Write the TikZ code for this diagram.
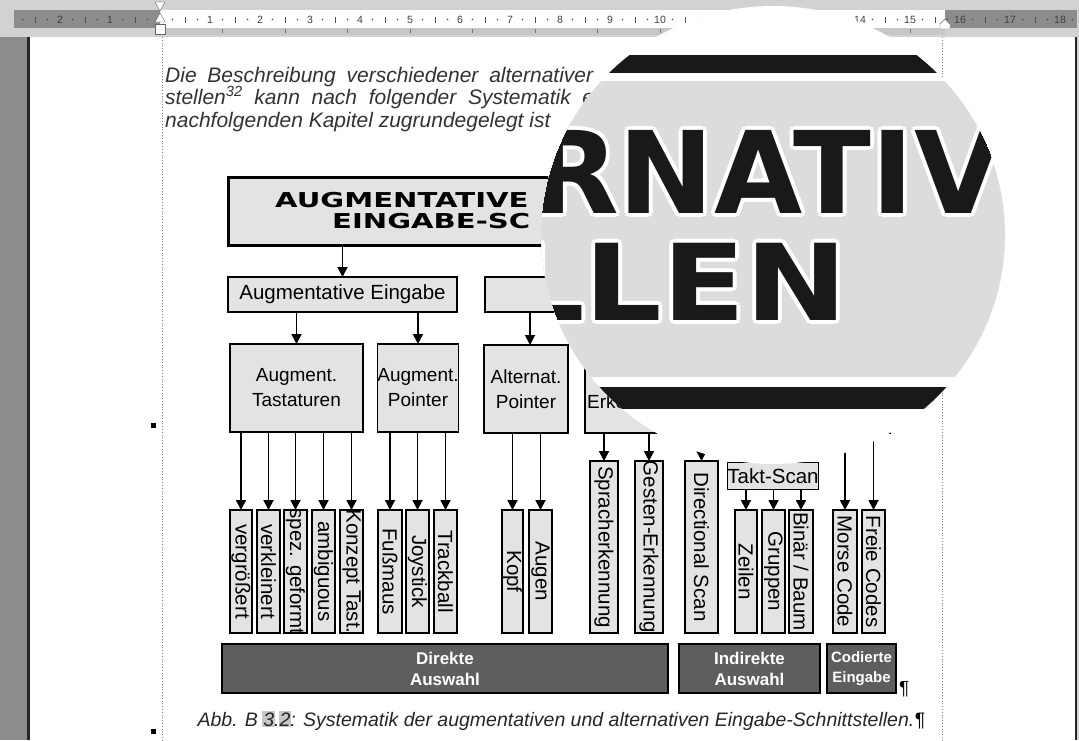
\documentclass[tikz,border=0pt]{standalone}
\usepackage{fontspec}
\setmainfont{Liberation Sans}
\newfontfamily\titelfont{DejaVu Sans}
\usetikzlibrary{arrows.meta}
\newcommand{\schrift}[2]{\fontsize{#1}{#2}\selectfont}
\newcommand{\feld}[1]{{\setlength{\fboxsep}{1pt}\kern-1pt\colorbox{black!22}{#1}\kern-1pt}}
\definecolor{boxgrau}{HTML}{E3E3E3}
\definecolor{balken}{HTML}{5E5E5E}
\definecolor{lupe}{HTML}{DCDCDC}
\definecolor{lineal}{HTML}{D2D2D2}
\definecolor{randgrau}{HTML}{8C8C8C}

\begin{document}
\begin{tikzpicture}[x=1pt,y=-1pt,
    kasten/.style={draw=black, line width=1.6pt, fill=boxgrau, inner sep=0pt, outer sep=0pt, align=center},
    ebene/.style={kasten, minimum height=88pt, font=\schrift{19}{25}},
    blatt/.style={kasten, minimum height=123pt},
    blatttext/.style={rotate=-90, inner sep=0pt, font=\schrift{20.5}{20.5}},
    balkenbox/.style={draw=black, line width=1.4pt, fill=balken, inner sep=0pt, minimum height=49pt,
      text=white, align=center, font=\bfseries\schrift{17}{21}},
    pfeil/.style={line width=1.8pt, -{Triangle[width=10pt,length=10pt]}},
    zahl/.style={inner sep=0pt, text=black!75, font=\schrift{10.5}{10.5}},
    absatz/.style={anchor=base west, inner sep=0pt, text=black!80, font=\itshape\schrift{21}{25}},
    titeltext/.style={anchor=base west, inner sep=0pt, font=\titelfont\bfseries\schrift{20.5}{20.5}},
    lupentext/.style={anchor=base west, inner sep=0pt, text=black!90, font=\titelfont\bfseries}]
\useasboundingbox (0,0) rectangle (1079,740);

% fenster
\fill[white] (0,0) rectangle (1079,740);
\fill[randgrau] (0,37) rectangle (27,740);
\fill[black!85] (27,37) rectangle (29.5,740);
\fill[black!85] (1075,37) rectangle (1077,740);
\fill[lineal] (1077,37) rectangle (1079,740);

% lineal
\fill[lineal] (0,0) rectangle (1079,37);
\fill[randgrau] (14,10) rectangle (160,28);
\fill[white] (160,10) rectangle (945,28);
\fill[randgrau] (945,10) rectangle (1077,28);
\fill[black!22] (160,28) rectangle (945,35);
\foreach \i in {1,...,12}
  \draw[black!55, line width=0.8pt] (160+62.5*\i,29) -- (160+62.5*\i,33);
\foreach \k in {-11,...,73}{
  \pgfmathtruncatemacro\r{mod(\k+100,4)}
  \ifnum\r=2\relax \draw[black!70, line width=0.8pt] (160+12.5*\k,16.5) -- (160+12.5*\k,22.5);\fi
  \ifodd\r\relax \fill[black!70] (160+12.5*\k,19.5) circle (0.9pt);\fi
}
\foreach \n in {1,...,18}
  \node[zahl] (cm\n) at (160+50*\n,19.5) {\n};
\node[zahl] (cmm1) at (110,19.5) {1};
\node[zahl] (cmm2) at (60,19.5) {2};
\draw[black!60, fill=white] (155,2) -- (165,2) -- (160,11) -- cycle;
\draw[black!60, fill=white] (160,13) -- (165,22) -- (155,22) -- cycle;
\draw[black!60, fill=white] (155,24) rectangle (165,34);
\draw[black!60, fill=white] (940,29) -- (950,29) -- (950,24) -- (945,19) -- (940,24) -- cycle;

% ränder
\draw[black!50, dotted, line width=0.8pt] (162,37) -- (162,740);
\draw[black!50, dotted, line width=0.8pt] (942,37) -- (942,740);
\fill (150.5,422.5) rectangle +(5,5);
\fill (150.5,728.5) rectangle +(5,5);

% absatz
\node[absatz] (zeile1) at (165,82) {\makebox[428pt][s]{Die Beschreibung verschiedener alternativer}};
\node[absatz] (zeile2) at (165,104.5) {\makebox[429pt][s]{stellen\textsuperscript{32} kann nach folgender Systematik e}};
\node[absatz] (zeile3) at (165,127) {nachfolgenden Kapitel zugrundegelegt ist};

% titel
\node[kasten, line width=3pt, minimum width=668pt, minimum height=68pt] (titel) at (562,211) {};
\node[titeltext] (titelA) at (275,207) {\scalebox{1.42}[1]{AUGMENTATIVE\hspace{14pt}UND ALTERNATIVE}};
\node[titeltext] (titelB) at (332,228) {\scalebox{1.42}[1]{EINGABE-SC\hspace{9pt}HNITTSTELLEN}};

% zweite ebene
\node[kasten, minimum width=229pt, minimum height=35pt, font=\schrift{20.5}{24}] (aug) at (342.5,294.5) {Augmentative Eingabe};
\node[kasten, minimum width=405pt, minimum height=35pt] (alt) at (687.5,294.5) {};
\draw[pfeil] (titel.south -| aug.north) -- (aug.north);

% dritte ebene
\node[ebene, minimum width=133pt] (tast) at (296.5,388) {Augment.\\Tastaturen};
\node[ebene, minimum width=80pt] (augp) at (418,388) {Augment.\\Pointer};
\node[ebene, minimum width=84pt] (altp) at (526,389) {Alternat.\\Pointer};
\node[ebene, minimum width=82pt] (erk) at (626,389) {};
\node[anchor=base west, inner sep=0pt, font=\schrift{19}{25}] (erktext) at (587,408) {Erkennung};
\node[ebene, minimum width=133pt] (scan) at (751.5,389) {};
\node[ebene, minimum width=62pt] (code) at (859,389) {};
\draw[pfeil] (aug.south -| tast.north) -- (tast.north);
\draw[pfeil] (aug.south -| augp.north) -- (augp.north);
\draw[pfeil] (alt.south -| 530,0) -- (altp.north -| 530,0);

% blaetter
\foreach \name/\x/\w/\txt in {verg/241/22/vergrößert, verk/268.5/23/verkleinert,
    spez/295.5/23/{spez. geformt}, ambi/323.5/23/ambiguous, konz/351.5/23/{Konzept Tast.},
    fuss/390/24/Fußmaus, joy/417.5/23/Joystick, track/445.5/23/Trackball,
    kopf/512.5/21/Kopf, augen/540.5/23/Augen, zeilen/746/22/Zeilen, gruppen/773.5/23/Gruppen,
    binaer/801/24/{Binär / Baum}, morse/845/24/{Morse Code}, freie/873.5/23/{Freie Codes}}
  \node[blatt, minimum width=\w pt, label={[blatttext]center:\txt}] (\name) at (\x,571.5) {};
\foreach \name/\x/\w/\txt in {sprach/604/28/Spracherkennung, gesten/649/28/Gesten-Erkennung,
    dirscan/701.5/33/{Directional Scan}}
  \node[blatt, minimum width=\w pt, minimum height=172pt, label={[blatttext]center:\txt}] (\name) at (\x,547) {};
\node[kasten, minimum width=90pt, minimum height=27pt, font=\schrift{20.5}{24}] (takt) at (773,476) {Takt-Scan};

\foreach \k in {verg,verk,spez,ambi,konz}
  \draw[pfeil] (tast.south -| \k.north) -- (\k.north);
\foreach \k in {fuss,joy,track}
  \draw[pfeil] (augp.south -| \k.north) -- (\k.north);
\foreach \k in {kopf,augen}
  \draw[pfeil] (altp.south -| \k.north) -- (\k.north);
\foreach \k in {sprach,gesten}
  \draw[pfeil] (erk.south -| \k.north) -- (\k.north);
\foreach \k in {zeilen,gruppen,binaer}
  \draw[pfeil] (takt.south -| \k.north) -- (\k.north);
\foreach \k in {morse,freie}
  \draw[pfeil] (code.south -| \k.north) -- (\k.north);
\draw[pfeil] (scan.south -| dirscan.north) -- (dirscan.north);
\draw[pfeil] (scan.south -| takt.north) -- (takt.north);

% auswahl
\node[balkenbox, minimum width=446pt] (direkt) at (445,668.5) {Direkte\\Auswahl};
\node[balkenbox, minimum width=141pt] (indirekt) at (749.5,668.5) {Indirekte\\Auswahl};
\node[balkenbox, minimum width=69pt, font=\bfseries\schrift{15}{20}] (codiert) at (861.5,668.5) {Codierte\\Eingabe};
\node[anchor=base west, inner sep=0pt, font=\schrift{19}{19}] (codpara) at (899,694) {¶};

% bildunterschrift
\node[anchor=base, inner sep=0pt, text=black!85, font=\itshape\schrift{19.5}{24}] (abb) at (556,726)
  {Abb. B \feld{3}.\feld{2}: Systematik der augmentativen und alternativen Eingabe-Schnittstellen.};
\node[anchor=base west, inner sep=0pt, font=\schrift{19.5}{24}] (abbpara) at (abb.base east) {¶};

% lupe
\begin{scope}
  \clip (773,235) ellipse [x radius=232pt, y radius=229pt];
  \fill[white] (500,-10) rectangle (1079,480);
  \fill[black!90] (500,55) rectangle (1079,73);
  \fill[lupe] (500,81) rectangle (1079,377);
  \fill[black!90] (500,387) rectangle (1079,409);
  \foreach \dx/\dy [count=\i] in {-4/0,4/0,0/-4,0/4,-3/-3,3/3,-3/3,3/-3}{
    \node[lupentext, text=white, font=\titelfont\bfseries\schrift{114}{114}] (haloA\i) at (531+\dx,213+\dy) {RNATIV};
    \node[lupentext, text=white, font=\titelfont\bfseries\schrift{106}{106}] (haloB\i) at (507+\dx,320+\dy) {\scalebox{1.15}[1]{LLEN}};
  }
  \node[lupentext, font=\titelfont\bfseries\schrift{114}{114}] (lupeA) at (531,213) {RNATIV};
  \node[lupentext, font=\titelfont\bfseries\schrift{106}{106}] (lupeB) at (507,320) {\scalebox{1.15}[1]{LLEN}};
\end{scope}
\end{tikzpicture}
\end{document}
